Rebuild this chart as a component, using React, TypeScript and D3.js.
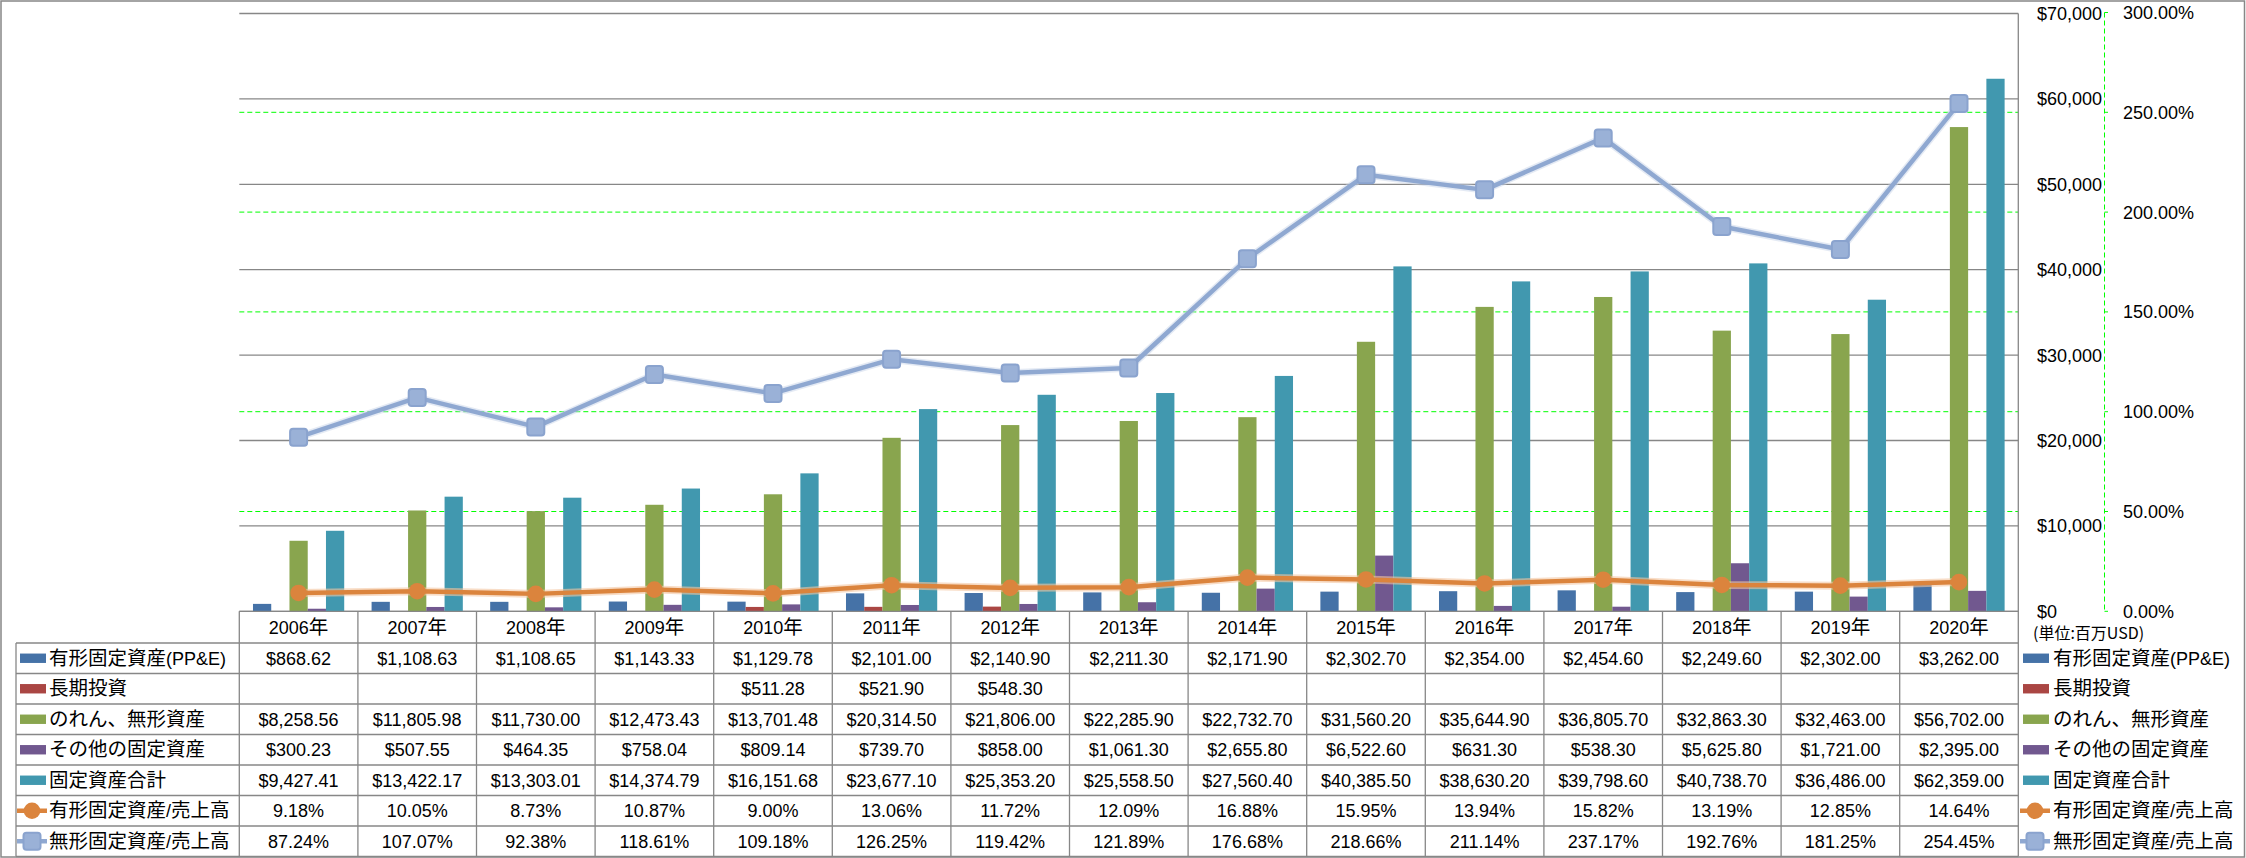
import React from "react";
import * as d3 from "d3";

const years = ["2006年","2007年","2008年","2009年","2010年","2011年","2012年","2013年","2014年","2015年","2016年","2017年","2018年","2019年","2020年"];
const ppe = [868.62, 1108.63, 1108.65, 1143.33, 1129.78, 2101.0, 2140.9, 2211.3, 2171.9, 2302.7, 2354.0, 2454.6, 2249.6, 2302.0, 3262.0];
const ltInv: (number | null)[] = [null, null, null, null, 511.28, 521.9, 548.3, null, null, null, null, null, null, null, null];
const goodwill = [8258.56, 11805.98, 11730.0, 12473.43, 13701.48, 20314.5, 21806.0, 22285.9, 22732.7, 31560.2, 35644.9, 36805.7, 32863.3, 32463.0, 56702.0];
const otherFixed = [300.23, 507.55, 464.35, 758.04, 809.14, 739.7, 858.0, 1061.3, 2655.8, 6522.6, 631.3, 538.3, 5625.8, 1721.0, 2395.0];
const totalFixed = [9427.41, 13422.17, 13303.01, 14374.79, 16151.68, 23677.1, 25353.2, 25558.5, 27560.4, 40385.5, 38630.2, 39798.6, 40738.7, 36486.0, 62359.0];
const ppeRatio = [9.18, 10.05, 8.73, 10.87, 9.0, 13.06, 11.72, 12.09, 16.88, 15.95, 13.94, 15.82, 13.19, 12.85, 14.64];
const intangibleRatio = [87.24, 107.07, 92.38, 118.61, 109.18, 126.25, 119.42, 121.89, 176.68, 218.66, 211.14, 237.17, 192.76, 181.25, 254.45];

const barSeriesNames = ["有形固定資産(PP&E)", "長期投資", "のれん、無形資産", "その他の固定資産", "固定資産合計"];
const lineSeriesNames = ["有形固定資産/売上高", "無形固定資産/売上高"];
const leftTicks = [0, 10000, 20000, 30000, 40000, 50000, 60000, 70000];
const rightTicks = [0, 50, 100, 150, 200, 250, 300];
const unitLabel = "(単位:百万USD)";

const barColors = ["#4572A7", "#AA4643", "#89A54E", "#71588F", "#4198AF"];
const orange = "#DB843D";
const blueGray = "#8FA8D1";
const gridGray = "#878787";
const green = "#00FF00";
const LATIN = "'Liberation Sans', Arial, sans-serif";
const CJK = "'Noto Sans CJK JP', 'Noto Sans CJK SC', sans-serif";

function runs(s: string): [string, boolean][] {
  const out: [string, boolean][] = [];
  let cur = "";
  let curC: boolean | null = null;
  for (const ch of s) {
    const c = /[\u3000-\u9fff\uff00-\uffef]/.test(ch);
    if (curC === null || c === curC) {
      cur += ch;
      curC = c;
    } else {
      out.push([cur, curC]);
      cur = ch;
      curC = c;
    }
  }
  if (cur) out.push([cur, !!curC]);
  return out;
}

function MText({ x, y, text, anchor = "start", size = 18, cjkSize = 19.5 }: any) {
  return (
    <text x={x} y={y + 6.5} textAnchor={anchor} fill="#000" style={{ fontFamily: LATIN, fontSize: size }}>
      {runs(text).map(([t, c], i) => (
        <tspan key={i} style={{ fontFamily: c ? CJK : LATIN, fontSize: c ? cjkSize : size }}>{t}</tspan>
      ))}
    </text>
  );
}

export default function App() {
  const W = 2246, H = 858;
  const plotL = 239.3, plotR = 2018.3;
  const baseY = 611.3, topY = 13.5;
  const headerH = 31.7;
  const rowH = 30.5;

  const x = d3.scaleBand<string>().domain(years).range([plotL, plotR]).paddingInner(0).paddingOuter(0);
  const xs = d3.scaleBand<number>().domain([0, 1, 2, 3, 4]).range([0, x.bandwidth()]).paddingInner(0).paddingOuter(0.75);
  const yL = d3.scaleLinear().domain([0, 70000]).range([baseY, topY]);
  const yR = d3.scaleLinear().domain([0, 300]).range([baseY, 12.5]);

  const barData = [ppe, ltInv, goodwill, otherFixed, totalFixed];
  const cx = (i: number) => (x(years[i]) as number) + x.bandwidth() / 2;

  const lineGen = d3.line<number>().x((_, i) => cx(i)).y((d) => yR(d));

  const fmtMoney = (v: number | null) => (v == null ? "" : "$" + d3.format(",.2f")(v));
  const fmtPct = (v: number) => d3.format(".2f")(v) + "%";
  const fmtTick = (v: number) => "$" + d3.format(",")(v);

  const tableRows: { name: string; values: string[]; kind: string; color: string }[] = [
    ...barSeriesNames.map((n, k) => ({ name: n, values: barData[k].map(fmtMoney), kind: "bar", color: barColors[k] })),
    { name: lineSeriesNames[0], values: ppeRatio.map(fmtPct), kind: "circle", color: orange },
    { name: lineSeriesNames[1], values: intangibleRatio.map(fmtPct), kind: "square", color: blueGray },
  ];

  const rowTop = (r: number) => baseY + headerH + r * rowH;
  const tableBottom = rowTop(tableRows.length);

  const legendKey = (kind: string, color: string, x0: number, yc: number, key: string) => {
    if (kind === "bar") return <rect key={key} x={x0 + 3} y={yc - 4.7} width={26} height={9.4} fill={color} />;
    const line = <line x1={x0} x2={x0 + 30} y1={yc} y2={yc} stroke={color} strokeWidth={4.5} />;
    if (kind === "circle")
      return (
        <g key={key}>
          {line}
          <circle cx={x0 + 15} cy={yc} r={8.3} fill={color} />
        </g>
      );
    return (
      <g key={key}>
        {line}
        <rect x={x0 + 15 - 8.5} y={yc - 8.5} width={17} height={17} rx={3} fill="#9AB1D7" stroke="#8AA3CE" strokeWidth={2} />
      </g>
    );
  };

  return (
    <svg width={W} height={H} style={{ position: "absolute", left: 0, top: 0, background: "#fff" }}>
      <rect x={0} y={0} width={W} height={H} fill="#fff" />
      {/* outer border */}
      <rect x={1} y={1} width={W - 2.5} height={H - 2} fill="none" stroke={gridGray} strokeWidth={1.5} />

      {/* secondary gridlines (green dashed) */}
      {rightTicks.filter((t) => t > 0 && t < 300).map((t) => (
        <line key={"gr" + t} x1={plotL} x2={plotR} y1={yR(t)} y2={yR(t)} stroke={green} strokeWidth={1} strokeDasharray="5,3" />
      ))}
      {/* primary gridlines */}
      {leftTicks.map((t) => (
        <line key={"gl" + t} x1={plotL} x2={plotR} y1={yL(t)} y2={yL(t)} stroke={gridGray} strokeWidth={1.3} />
      ))}

      {/* bars */}
      {barData.map((series, k) => (
        <g key={"s" + k} fill={barColors[k]}>
          {series.map((v, i) =>
            v == null ? null : (
              <rect
                key={i}
                x={(x(years[i]) as number) + (xs(k) as number)}
                y={yL(v)}
                width={xs.bandwidth()}
                height={baseY - yL(v)}
              />
            )
          )}
        </g>
      ))}

      {/* lines */}
      <path d={lineGen(ppeRatio) || ""} fill="none" stroke="#F3C7A2" strokeWidth={8} strokeOpacity={0.6} />
      <path d={lineGen(ppeRatio) || ""} fill="none" stroke={orange} strokeWidth={4.5} strokeLinejoin="round" />
      <path d={lineGen(intangibleRatio) || ""} fill="none" stroke="#C9D5EA" strokeWidth={7.5} strokeOpacity={0.5} />
      <path d={lineGen(intangibleRatio) || ""} fill="none" stroke={blueGray} strokeWidth={4.5} strokeLinejoin="round" />
      {ppeRatio.map((v, i) => (
        <circle key={"c" + i} cx={cx(i)} cy={yR(v)} r={8.3} fill={orange} />
      ))}
      {intangibleRatio.map((v, i) => (
        <rect key={"q" + i} x={cx(i) - 8.5} y={yR(v) - 8.5} width={17} height={17} rx={3} fill="#9AB1D7" stroke="#8AA3CE" strokeWidth={2} />
      ))}

      {/* primary axis line on right */}
      <line x1={plotR} x2={plotR} y1={topY} y2={tableBottom} stroke={gridGray} strokeWidth={1.3} />

      {/* right axes */}
      {leftTicks.map((t) => (
        <MText key={"lt" + t} x={2037} y={yL(t)} text={fmtTick(t)} />
      ))}
      <line x1={2104.5} x2={2104.5} y1={yR(300)} y2={yR(0)} stroke={green} strokeWidth={1} strokeDasharray="5,3" />
      {rightTicks.map((t) => (
        <g key={"rt" + t}>
          <line x1={2104.5} x2={2108} y1={yR(t)} y2={yR(t)} stroke={green} strokeWidth={1} />
          <MText x={2123} y={yR(t)} text={fmtPct(t)} />
        </g>
      ))}
      <text x={2033} y={633 + 5.5} style={{ fontFamily: CJK, fontSize: 16 }} fill="#000">{unitLabel}</text>

      {/* data table */}
      <g stroke={gridGray} strokeWidth={1.3}>
        <line x1={plotL} x2={plotR} y1={baseY} y2={baseY} />
        {d3.range(tableRows.length + 1).map((r) => (
          <line key={"h" + r} x1={16} x2={plotR} y1={rowTop(r)} y2={rowTop(r)} />
        ))}
        <line x1={16} x2={16} y1={rowTop(0)} y2={tableBottom} />
        {years.map((yv, i) => (
          <line key={"v" + i} x1={x(yv) as number} x2={x(yv) as number} y1={baseY} y2={tableBottom} />
        ))}
      </g>
      {years.map((yv) => (
        <MText key={"yr" + yv} x={(x(yv) as number) + x.bandwidth() / 2} y={baseY + headerH / 2} text={yv} anchor="middle" />
      ))}
      {tableRows.map((row, r) => {
        const yc = rowTop(r) + rowH / 2;
        return (
          <g key={"row" + r}>
            {legendKey(row.kind, row.color, 17, yc, "k" + r)}
            <MText x={49} y={yc} text={row.name} />
            {row.values.map((v, i) =>
              v ? <MText key={i} x={cx(i)} y={yc} text={v} anchor="middle" /> : null
            )}
            {legendKey(row.kind, row.color, 2020, yc, "rk" + r)}
            <MText x={2053} y={yc} text={row.name} />
          </g>
        );
      })}
    </svg>
  );
}
